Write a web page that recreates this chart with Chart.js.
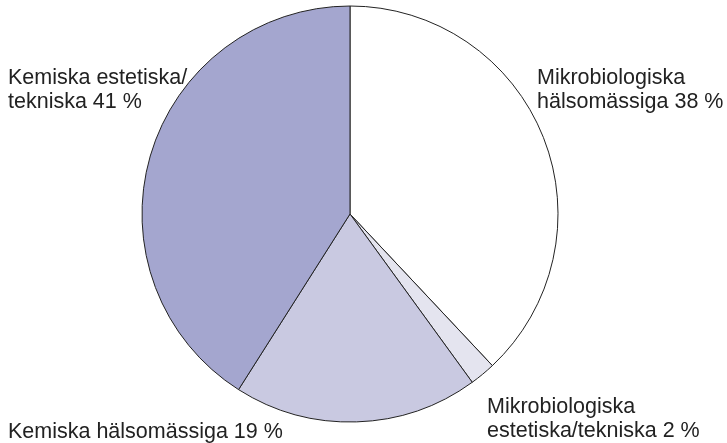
<!DOCTYPE html>
<html>
<head>
<meta charset="utf-8">
<script src="https://cdn.jsdelivr.net/npm/chart.js"></script>
<style>
  body { margin: 0; background: #fff; }
  canvas { display: block; }
</style>
</head>
<body>
<canvas id="pie" width="727" height="443"></canvas>
<script>
// andelar i procent, medurs från kl 12
const categories = [
  "Mikrobiologiska hälsomässiga",
  "Mikrobiologiska estetiska/tekniska",
  "Kemiska hälsomässiga",
  "Kemiska estetiska/tekniska"
];
const shares = [38, 2, 19, 41];
const labelLines = [
  ["Mikrobiologiska", "hälsomässiga 38 %"],
  ["Mikrobiologiska", "estetiska/tekniska 2 %"],
  ["Kemiska hälsomässiga 19 %"],
  ["Kemiska estetiska/", "tekniska 41 %"]
];

const colors = ["#ffffff", "#e4e4ef", "#c9c9e1", "#a4a6cf"];

// where each label block starts (left x, first baseline y)
const labelAnchor = [
  [537, 84],
  [487, 413],
  [8, 438],
  [8, 84]
];

const outsideLabels = {
  id: "outsideLabels",
  afterDraw(chart) {
    const ctx = chart.ctx;
    ctx.save();
    ctx.fillStyle = "#222";
    ctx.font = "21.5px 'Liberation Sans', Arial, sans-serif";
    ctx.textBaseline = "alphabetic";
    labelLines.forEach((lines, i) => {
      const [x, y] = labelAnchor[i];
      lines.forEach((t, j) => ctx.fillText(t, x, y + j * 24));
    });
    ctx.restore();
  }
};

new Chart(document.getElementById("pie"), {
  type: "pie",
  data: {
    labels: categories,
    datasets: [{
      data: shares,
      backgroundColor: colors,
      borderColor: "#222",
      borderWidth: 1
    }]
  },
  options: {
    responsive: false,
    animation: false,
    radius: 208,
    layout: { padding: { left: 0, right: 27, top: 6, bottom: 21 } },
    plugins: {
      legend: { display: false },
      tooltip: { enabled: false }
    }
  },
  plugins: [outsideLabels]
});
</script>
</body>
</html>
